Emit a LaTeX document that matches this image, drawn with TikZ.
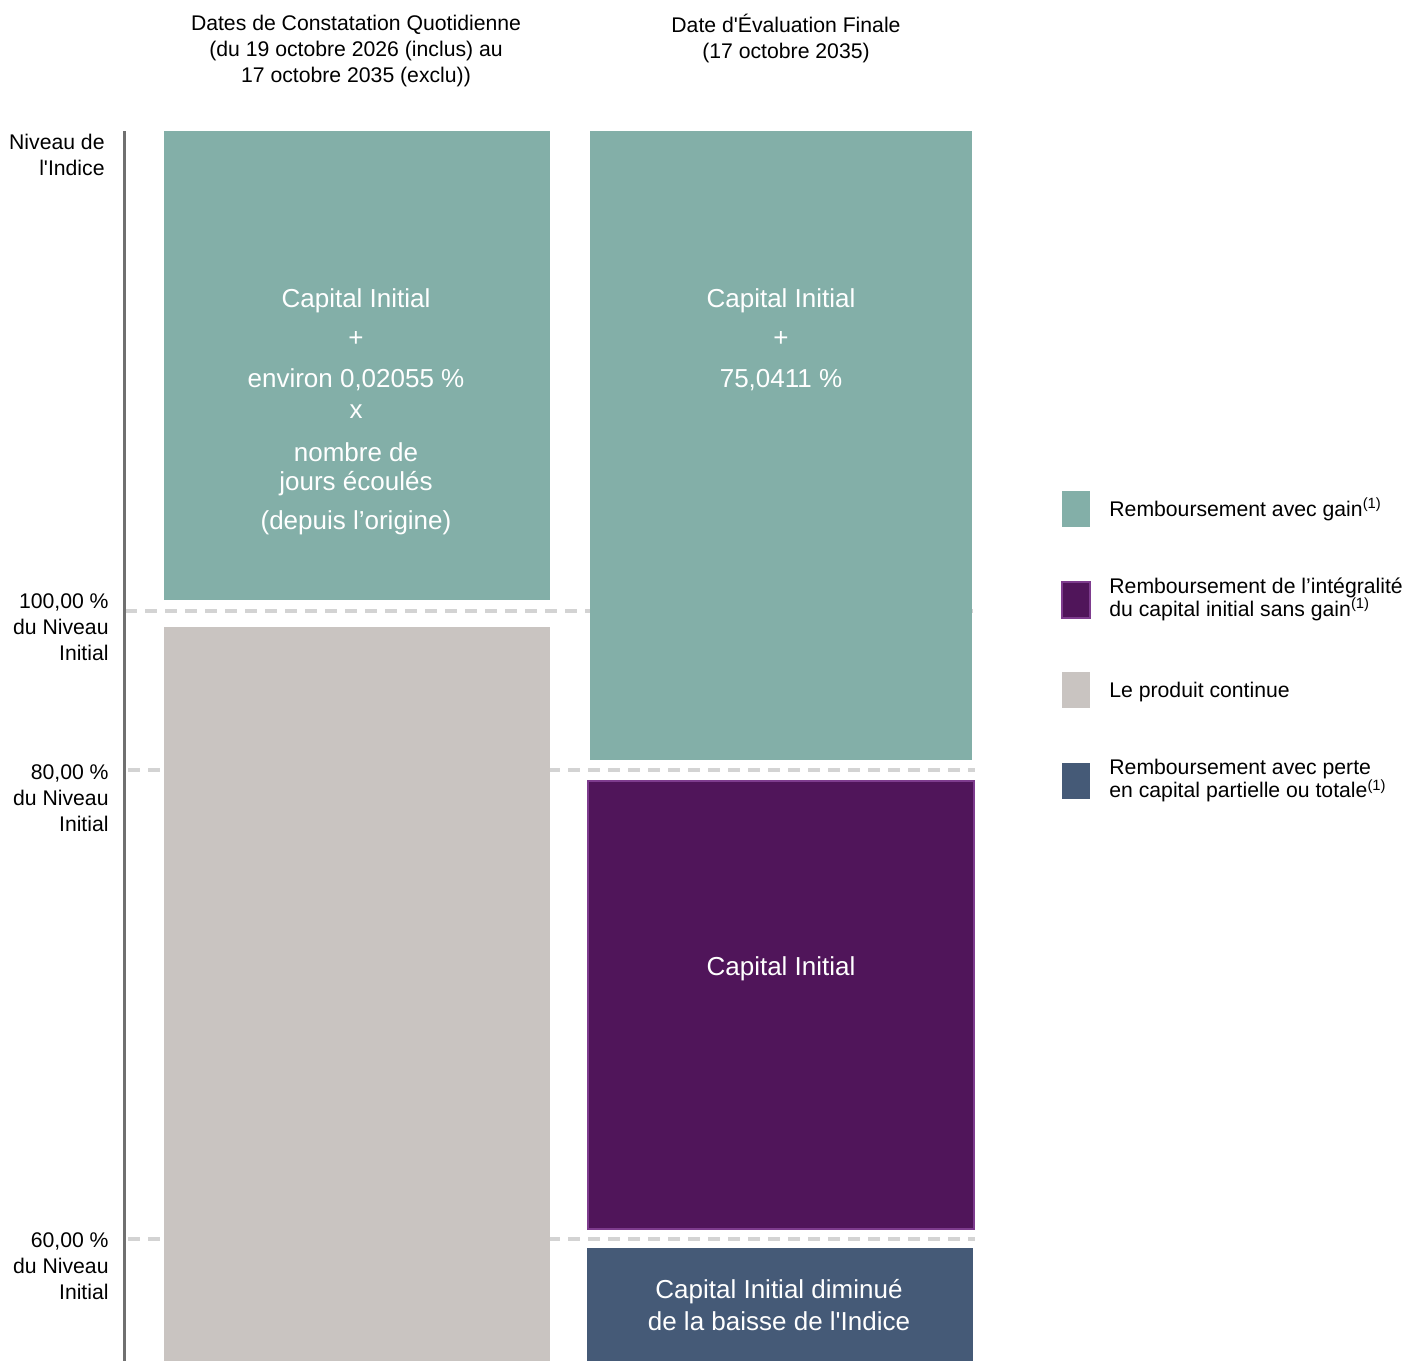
\documentclass[tikz,border=0pt]{standalone}
\usepackage{fontspec}
\setmainfont{Liberation Sans}
\usetikzlibrary{positioning}
\definecolor{gaingreen}{HTML}{83AFA8}
\definecolor{capitalpurple}{HTML}{50155A}
\definecolor{purpleedge}{HTML}{7E3C8E}
\definecolor{continuegray}{HTML}{C9C4C1}
\definecolor{lossblue}{HTML}{455A77}
\definecolor{axisgray}{HTML}{707070}
\definecolor{dashgray}{HTML}{D3D3D3}
\newcommand{\fn}{\smash{\textsuperscript{(1)}}}

\begin{document}
\begin{tikzpicture}[
    x=0.5pt, y=-0.5pt,
    boxtxt/.style={text=white, font=\fontsize{13}{16}\selectfont, align=center, inner sep=0pt},
    lbl/.style={font=\fontsize{10.6}{13}\selectfont, align=right, inner sep=0pt, anchor=east},
    head/.style={font=\fontsize{10.6}{13}\selectfont, align=center, inner sep=0pt},
    legtxt/.style={font=\fontsize{10.6}{11.5}\selectfont, align=left, inner sep=0pt, anchor=west},
    legbox/.style={minimum width=14pt, minimum height=18pt, inner sep=0pt},
    level/.style={dashgray, line width=2pt, dash pattern=on 6pt off 4pt},
]
\useasboundingbox (0,0) rectangle (1408,1361);

% Barrier levels
\foreach \y/\xa/\xb in {611/125/973, 770/128/975, 1239/128/975} {
    \draw[level] (\xa,\y) -- (\xb,\y);
}

% Index axis
\draw[axisgray, line width=1.5pt] (124,131) -- (124,1361);

% Columns
\fill[gaingreen] (164,131) rectangle (550,600);
\fill[continuegray] (164,627) rectangle (550,1361);
\fill[gaingreen] (590,131) rectangle (972,760);
\filldraw[fill=capitalpurple, draw=purpleedge, line width=0.6pt] (588,781) rectangle (974,1229);
\fill[lossblue] (587,1248) rectangle (973,1361);

% Column texts
\foreach \y/\t [count=\i] in {301/{Capital Initial}, 339/{+}, 380/{environ 0,02055 \%}, 412/{x}, 452/{nombre de}, 484/{jours écoulés}, 523/{(depuis l’origine)}} {
    \node[boxtxt] (daily\i) at (356,\y) {\t};
}
\foreach \y/\t [count=\i] in {301/{Capital Initial}, 339/{+}, 380/{75,0411 \%}} {
    \node[boxtxt] (final\i) at (781,\y) {\t};
}
\node[boxtxt] (capital) at (781,969) {Capital Initial};
\node[boxtxt] (loss) at (779,1305) {Capital Initial diminué\\de la baisse de l\textquotesingle Indice};

% Headings
\node[head] (hdaily) at (356,51) {Dates de Constatation Quotidienne\\(du 19 octobre 2026 (inclus) au\\17 octobre 2035 (exclu))};
\node[head] (hfinal) at (786,38) {Date d\textquotesingle Évaluation Finale\\(17 octobre 2035)};

% Axis labels
\node[lbl] (index) at (105,155) {Niveau de\\l\textquotesingle Indice};
\node[lbl] (l100) at (109,627) {100,00 \%\\du Niveau\\Initial};
\node[lbl] (l80) at (109,798) {80,00 \%\\du Niveau\\Initial};
\node[lbl] (l60) at (109,1266) {60,00 \%\\du Niveau\\Initial};

% Legend
\node[legbox, fill=gaingreen] (kgain) at (1076,509) {};
\node[legtxt] (tgain) at (1109,511) {Remboursement avec gain\fn};
\node[legbox, fill=capitalpurple, draw=purpleedge, line width=0.6pt] (kcap) at (1076,600) {};
\node[legtxt] (tcap) at (1109,599) {Remboursement de l’intégralité\\du capital initial sans gain\fn};
\node[legbox, fill=continuegray] (kcont) at (1076,690) {};
\node[legtxt] (tcont) at (1109,692) {Le produit continue};
\node[legbox, fill=lossblue] (kloss) at (1076,781) {};
\node[legtxt] (tloss) at (1109,781) {Remboursement avec perte\\en capital partielle ou totale\fn};

\end{tikzpicture}
\end{document}
